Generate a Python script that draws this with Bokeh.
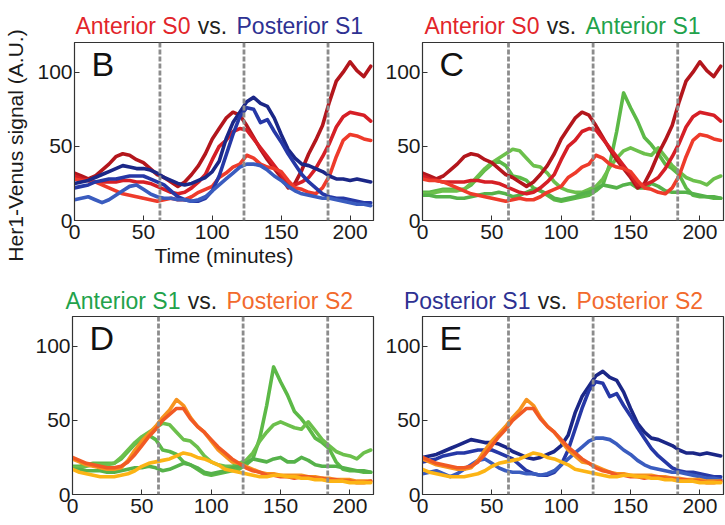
import numpy as np
from bokeh.plotting import figure
from bokeh.models import Span, Label, FixedTicker
from bokeh.layouts import column, row
from bokeh.embed import file_html
from bokeh.resources import INLINE

# ---------------- data ----------------
time_min = list(range(0, 220, 5))  # minutes

anterior_s0_a = [32,30,28,30,34,38,43,45,44,41,39,35,31,29,26,23,26,31,37,45,55,62,69,73,71,64,56,48,41,35,29,22,25,34,45,54,64,80,94,100,107,101,97,104]
anterior_s0_b = [30,28,27,26,26,26,26,27,27,26,26,25,23,21,19,18,19,22,26,31,41,50,54,60,62,61,55,49,43,37,31,24,24,26,29,35,43,52,63,70,73,72,71,67]
anterior_s0_c = [28,27,27,26,24,22,20,18,17,16,15,14,13,14,15,14,14,16,19,21,23,29,32,36,38,44,42,38,36,35,33,27,22,21,19,18,22,30,43,54,58,57,55,54]

posterior_s1_a = [25,26,27,29,31,33,35,37,36,35,35,34,32,29,27,25,24,25,27,29,33,40,55,66,73,80,83,79,77,69,58,48,42,38,37,35,33,30,28,28,27,28,27,26]
posterior_s1_b = [22,23,24,26,27,28,28,29,30,30,30,28,26,24,20,16,14,13,13,15,20,30,44,58,70,76,75,66,68,60,53,45,38,31,26,22,18,16,15,15,14,13,12,12]
posterior_s1_c = [14,15,16,14,12,14,17,20,23,24,21,18,16,15,15,14,14,13,14,16,20,24,28,32,36,38,38,37,34,30,27,23,20,18,17,16,15,15,14,13,12,11,11,10]

anterior_s1_a = [19,19,20,21,21,21,21,24,29,34,38,40,37,30,29,27,22,20,17,14,13,14,15,16,17,20,24,38,60,86,76,67,56,51,45,38,35,31,22,17,16,16,15,15]
anterior_s1_b = [18,18,19,20,20,20,21,25,30,35,39,42,45,48,47,42,37,36,32,26,22,20,19,19,21,23,28,36,42,47,49,47,45,44,49,43,37,33,29,27,26,24,28,30]
anterior_s1_c = [17,17,16,16,16,15,15,16,17,18,18,19,18,16,17,19,21,20,18,15,14,15,16,18,19,21,24,23,22,24,25,22,22,25,23,20,19,19,19,18,17,16,16,15]

posterior_s2_a = [24,22,20,19,18,17,17,18,23,30,36,41,46,52,57,64,60,52,46,42,36,30,26,22,21,19,17,15,14,14,13,13,13,13,12,12,11,11,10,10,10,9,9,9]
posterior_s2_b = [25,23,21,20,19,18,18,19,22,27,33,39,44,50,54,58,58,51,46,42,37,32,28,24,21,18,16,15,13,13,12,12,11,12,12,11,11,10,10,9,9,8,8,9]
posterior_s2_c = [17,15,14,13,12,12,12,13,14,16,19,21,22,23,24,26,28,27,25,24,22,20,17,16,15,14,13,12,12,13,13,12,12,11,11,10,10,9,9,9,8,8,8,8]

boundaries = [62, 123, 184]          # somite boundary times (dashed lines)
x_ticks = [0, 50, 100, 150, 200]
y_ticks = [0, 50, 100]

# ---------------- styling ----------------
FONT = "Liberation Sans"
X_END, Y_END = 217, 120
FRAME_W, FRAME_H = 301, 178
PX_PER_Y = FRAME_H / Y_END

groups = {
    "Anterior S0": dict(series=[anterior_s0_a, anterior_s0_b, anterior_s0_c],
                        colors=["#b3161c", "#d61f26", "#ee3b2b"], title_color="#e2252b"),
    "Posterior S1": dict(series=[posterior_s1_a, posterior_s1_b, posterior_s1_c],
                         colors=["#1b2787", "#2638a6", "#3a5cbf"], title_color="#2e3192"),
    "Anterior S1": dict(series=[anterior_s1_a, anterior_s1_b, anterior_s1_c],
                        colors=["#5cb947", "#6cc04c", "#55b24a"], title_color="#22a24b"),
    "Posterior S2": dict(series=[posterior_s2_a, posterior_s2_b, posterior_s2_c],
                         colors=["#f7931e", "#f15a24", "#fcb415"], title_color="#f26a2d"),
}


def no_align(fig):
    if "frame_align" in fig.properties():
        fig.frame_align = False
    return fig


def blank_canvas(w, h):
    """A figure without axes or title whose frame covers its whole area (pixel coordinates)."""
    s = figure(width=w, height=h, x_range=(0, w), y_range=(0, h), title=None,
               output_backend="svg", toolbar_location=None,
               x_axis_location=None, y_axis_location=None,
               min_border_left=0, min_border_right=0,
               min_border_top=0, min_border_bottom=0)
    s.xgrid.visible = False
    s.ygrid.visible = False
    s.outline_line_color = None
    s.background_fill_color = "white"
    s.border_fill_color = "white"
    return no_align(s)


def title_strip(left_name, right_name, vs_x, w, h, mid_y):
    s = blank_canvas(w, h)
    common = dict(y=mid_y, text_font=FONT, text_font_size="23px",
                  text_baseline="middle")
    s.add_layout(Label(x=vs_x, text="vs.", text_align="center",
                       text_color="#231f20", **common))
    s.add_layout(Label(x=vs_x - 22, text=left_name, text_align="right",
                       text_color=groups[left_name]["title_color"], **common))
    s.add_layout(Label(x=vs_x + 24, text=right_name, text_align="left",
                       text_color=groups[right_name]["title_color"], **common))
    return s


def make_panel(letter, draw_order, border_left, border_right, border_top, border_bottom,
               xlabel=False):
    w = border_left + FRAME_W + border_right
    h = border_top + FRAME_H + border_bottom
    p = figure(width=w, height=h, x_range=(0, X_END), y_range=(0, Y_END), title=None,
               output_backend="svg", toolbar_location=None,
               min_border_left=border_left, min_border_right=border_right,
               min_border_top=border_top, min_border_bottom=border_bottom)
    no_align(p)
    p.xgrid.visible = False
    p.ygrid.visible = False
    p.outline_line_color = "#333333"
    p.outline_line_width = 1.2
    p.background_fill_color = "white"
    p.border_fill_color = "white"

    p.xaxis.ticker = FixedTicker(ticks=x_ticks)
    p.yaxis.ticker = FixedTicker(ticks=y_ticks)
    for ax in (p.xaxis[0], p.yaxis[0]):
        ax.major_tick_in = 5
        ax.major_tick_out = 0
        ax.minor_tick_in = 0
        ax.minor_tick_out = 0
        ax.axis_line_color = "#333333"
        ax.major_tick_line_color = "#333333"
        ax.major_label_text_font = FONT
        ax.major_label_text_font_size = "21px"
        ax.major_label_text_color = "#1a1a1a"
    p.xaxis.major_label_standoff = 4
    p.yaxis.major_label_standoff = 2

    if xlabel:
        p.xaxis.axis_label = "Time (minutes)"
        p.xaxis.axis_label_text_font = FONT
        p.xaxis.axis_label_text_font_size = "21px"
        p.xaxis.axis_label_text_font_style = "normal"
        p.xaxis.axis_label_text_color = "#1a1a1a"
        p.xaxis.axis_label_standoff = 2

    for name in draw_order:
        g = groups[name]
        for s, c in zip(g["series"], g["colors"]):
            p.line(time_min, s, line_color=c, line_width=3.6,
                   line_join="round", line_cap="round")

    for b in boundaries:
        p.add_layout(Span(location=b, dimension="height", line_color="#8c8c8c",
                          line_width=2.8, line_dash="5 2"))

    p.add_layout(Label(text=letter, x=0, x_offset=17, y=Y_END - 21 / PX_PER_Y,
                       text_font=FONT, text_font_size="34px", text_color="#111111",
                       text_baseline="middle", text_align="left"))
    return p


YLAB_W = 34
TOP_STRIP, BOT_STRIP = 40, 38
B_LEFT, B_RIGHT = 38, 5
C_LEFT, C_RIGHT = 44, 2
D_LEFT = YLAB_W + B_LEFT

# top row
pB = make_panel("B", ["Anterior S0", "Posterior S1"], B_LEFT, B_RIGHT, 2, 56, xlabel=True)
pC = make_panel("C", ["Anterior S1", "Anterior S0"], C_LEFT, C_RIGHT, 2, 56)
sB = title_strip("Anterior S0", "Posterior S1", 178, B_LEFT + FRAME_W + B_RIGHT, TOP_STRIP, 15)
sC = title_strip("Anterior S0", "Anterior S1", 183, C_LEFT + FRAME_W + C_RIGHT, TOP_STRIP, 15)

top_h = TOP_STRIP + 2 + FRAME_H + 56
ylab = blank_canvas(YLAB_W, top_h)
ylab.add_layout(Label(x=15, y=top_h - 145, text="Her1-Venus signal (A.U.)",
                      angle=np.pi / 2, text_font=FONT, text_font_size="21px",
                      text_color="#1a1a1a", text_align="center", text_baseline="middle"))

# bottom row
pD = make_panel("D", ["Anterior S1", "Posterior S2"], D_LEFT, B_RIGHT, 2, 27)
pE = make_panel("E", ["Posterior S1", "Posterior S2"], C_LEFT, C_RIGHT, 2, 27)
sD = title_strip("Anterior S1", "Posterior S2", 202, D_LEFT + FRAME_W + B_RIGHT, BOT_STRIP, 14)
sE = title_strip("Posterior S1", "Posterior S2", 174, C_LEFT + FRAME_W + C_RIGHT, BOT_STRIP, 14)

layout = column(
    row(ylab, column(sB, pB), column(sC, pC)),
    row(column(sD, pD), column(sE, pE)),
)

open("out.html", "w").write(file_html(layout, INLINE))
